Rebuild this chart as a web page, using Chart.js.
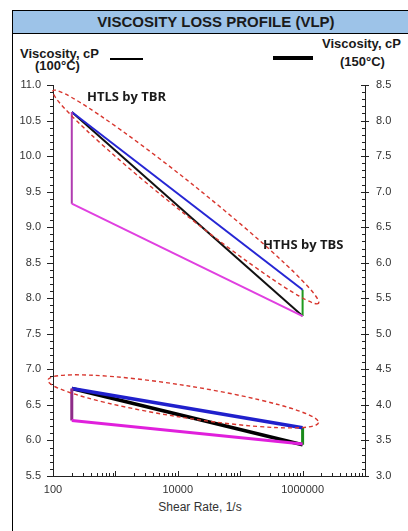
<!DOCTYPE html>
<html>
<head>
<meta charset="utf-8">
<script src="https://cdn.jsdelivr.net/npm/chart.js"></script>
<style>
  html, body { margin: 0; padding: 0; background: #fff; }
  body { width: 408px; height: 531px; position: relative; overflow: hidden; font-family: "Liberation Sans", Arial, sans-serif; }
  #frame { position: absolute; left: 12px; top: 10px; width: 400px; height: 530px; border-left: 1px solid #000; border-top: 1px solid #000; }
  #band { position: absolute; left: 12px; top: 10px; width: 400px; height: 22px; background: #9dc3e8; border-top: 1px solid #000; border-bottom: 1px solid #000; border-left: 1px solid #000; }
  #title { position: absolute; left: 0; width: 432px; top: 12px; text-align: center; font-weight: bold; font-size: 15px; color: #1a1a1a; line-height: 20px; }
  .lab { position: absolute; font-weight: bold; font-size: 13px; color: #1a1a1a; line-height: 14px; white-space: nowrap; }
  .seg { position: absolute; background: #000; }
  #xtitle { position: absolute; left: 100px; width: 200px; top: 500px; text-align: center; font-size: 12px; color: #333; }
  canvas { position: absolute; left: 0; top: 0; }
</style>
</head>
<body>
<div id="frame"></div>
<div id="band"></div>
<div id="title">VISCOSITY LOSS PROFILE (VLP)</div>
<div class="lab" style="left:20px;top:47px;">Viscosity, cP</div>
<div class="lab" style="left:35px;top:59px;">(100°C)</div>
<div class="seg" style="left:110px;top:58px;width:33px;height:1.5px;"></div>
<div class="seg" style="left:273px;top:56px;width:40px;height:4px;"></div>
<div class="lab" style="left:322px;top:37px;">Viscosity, cP</div>
<div class="lab" style="left:340px;top:55px;">(150°C)</div>
<div id="xtitle">Shear Rate, 1/s</div>
<canvas id="c" width="408" height="531"></canvas>
<script>
// shear rates (1/s) at which the viscosities are read
const shearRates = [200, 1000000];

// 100°C viscosity, cP (left axis)
const visc100Blue = [10.62, 8.12];
const visc100Black = [10.62, 7.75];
const visc100Magenta = [9.33, 7.75];

// 150°C viscosity, cP (right axis)
const visc150Blue = [4.23, 3.68];
const visc150Black = [4.23, 3.44];
const visc150Magenta = [3.78, 3.45];

// axis ticks
const xTickLabels = [100, 10000, 1000000];
const yLeftTicks = [5.5, 6.0, 6.5, 7.0, 7.5, 8.0, 8.5, 9.0, 9.5, 10.0, 10.5, 11.0];
const yRightTicks = [3.0, 3.5, 4.0, 4.5, 5.0, 5.5, 6.0, 6.5, 7.0, 7.5, 8.0, 8.5];

// dashed ellipse callouts: ends in (shear rate, 100°C viscosity)
const ellipseTop = [[100, 10.92], [1.8e6, 7.93]];
const ellipseBottom = [[83, 6.85], [1.8e6, 6.25]];

// annotation labels
const notes = [
  { text: 'HTLS by TBR', x: 350, y: 10.83 },
  { text: 'HTHS by TBS', x: 232000, y: 8.75 }
];

const pts = (xs, ys) => xs.map((x, i) => ({ x: x, y: ys[i] }));
const vert = (x, a, b) => [{ x: x, y: a }, { x: x, y: b }];

function ds(data, color, width, axis) {
  return { data: data, borderColor: color, borderWidth: width, pointRadius: 0, tension: 0, fill: false, yAxisID: axis };
}

const datasets = [
  ds(pts(shearRates, visc100Magenta), '#e040e0', 2, 'y'),
  ds(vert(shearRates[0], visc100Black[0], visc100Magenta[0]), '#b03cb0', 2, 'y'),
  ds(pts(shearRates, visc100Blue), '#2626d4', 2, 'y'),
  ds(vert(shearRates[1], visc100Blue[1], visc100Black[1]), '#1f9a1f', 2, 'y'),
  ds(pts(shearRates, visc100Black), '#111', 2, 'y'),
  ds(pts(shearRates, visc150Magenta), '#e020dc', 3, 'y2'),
  ds(vert(shearRates[0], visc150Black[0], visc150Magenta[0]), '#8e2c88', 3, 'y2'),
  ds(pts(shearRates, visc150Blue), '#2020cc', 3.5, 'y2'),
  ds(vert(shearRates[1], visc150Blue[1], visc150Black[1]), '#1a8a1a', 3, 'y2'),
  ds(pts(shearRates, visc150Black), '#000', 3.5, 'y2')
];

const decor = {
  id: 'decor',
  afterDraw(chart) {
    const ctx = chart.ctx;
    const xs = chart.scales.x, yl = chart.scales.y, yr = chart.scales.y2;
    const bottom = chart.chartArea.bottom;
    ctx.save();
    ctx.strokeStyle = '#222';
    ctx.lineWidth = 1;
    ctx.beginPath();
    // y axis ticks, major every 0.5 and minor every 0.1
    for (let i = 0; i <= 55; i++) {
      const v = 5.5 + i * 0.1;
      const py = Math.round(yl.getPixelForValue(v)) + 0.5;
      const major = i % 5 === 0;
      ctx.moveTo(yl.right - (major ? 6 : 3), py);
      ctx.lineTo(yl.right + (major ? 0 : 1), py);
      const v2 = 3 + i * 0.1;
      const py2 = Math.round(yr.getPixelForValue(v2)) + 0.5;
      ctx.moveTo(yr.left - (major ? 4 : 3), py2);
      ctx.lineTo(yr.left + (major ? 4 : 0), py2);
    }
    // x axis ticks (log)
    for (let d = 2; d < 7; d++) {
      for (let k = 1; k <= 9; k++) {
        const px = Math.round(xs.getPixelForValue(k * Math.pow(10, d))) + 0.5;
        const len = k === 1 ? 5 : 3;
        ctx.moveTo(px, bottom);
        ctx.lineTo(px, bottom - len);
      }
    }
    ctx.stroke();

    // dashed ellipses
    ctx.strokeStyle = '#d8362e';
    ctx.lineWidth = 1.4;
    ctx.setLineDash([4, 3]);
    [[ellipseTop, 14], [ellipseBottom, 16]].forEach(([e, b]) => {
      const x1 = xs.getPixelForValue(e[0][0]), y1 = yl.getPixelForValue(e[0][1]);
      const x2 = xs.getPixelForValue(e[1][0]), y2 = yl.getPixelForValue(e[1][1]);
      const cx = (x1 + x2) / 2, cy = (y1 + y2) / 2;
      const a = Math.hypot(x2 - x1, y2 - y1) / 2;
      const ang = Math.atan2(y2 - y1, x2 - x1);
      ctx.beginPath();
      ctx.ellipse(cx, cy, a, b, ang, 0, Math.PI * 2);
      ctx.stroke();
    });
    ctx.setLineDash([]);

    // notes
    ctx.fillStyle = '#1a1a1a';
    ctx.font = 'bold 13px "Open Sans"';
    ctx.textBaseline = 'middle';
    ctx.textAlign = 'left';
    notes.forEach(n => ctx.fillText(n.text, xs.getPixelForValue(n.x), yl.getPixelForValue(n.y)));
    ctx.restore();
  }
};

const tickFont = { family: '"Liberation Sans", Arial', size: 11 };

new Chart(document.getElementById('c'), {
  type: 'line',
  data: { datasets: datasets },
  plugins: [decor],
  options: {
    responsive: false,
    animation: false,
    events: [],
    layout: { padding: { top: 85, left: 0, right: 0, bottom: 0 } },
    plugins: { legend: { display: false }, tooltip: { enabled: false } },
    scales: {
      x: {
        type: 'logarithmic', position: 'bottom', min: 100, max: 1e7,
        afterBuildTicks: s => { s.ticks = xTickLabels.map(v => ({ value: v })); },
        afterFit: s => { s.height = 55; },
        grid: { display: false, drawTicks: false },
        border: { display: true, color: '#222', width: 1 },
        ticks: { font: tickFont, color: '#333', padding: 7, maxRotation: 0, autoSkip: false, callback: v => String(v) }
      },
      y: {
        type: 'linear', position: 'left', min: 5.5, max: 11,
        afterBuildTicks: s => { s.ticks = yLeftTicks.map(v => ({ value: v })); },
        afterFit: s => { s.width = 53; },
        grid: { display: false, drawTicks: false },
        border: { display: true, color: '#222', width: 1 },
        ticks: { font: tickFont, color: '#333', padding: 12, autoSkip: false, callback: v => v.toFixed(1) }
      },
      y2: {
        type: 'linear', position: 'right', min: 3, max: 8.5,
        afterBuildTicks: s => { s.ticks = yRightTicks.map(v => ({ value: v })); },
        afterFit: s => { s.width = 43; },
        grid: { display: false, drawTicks: false },
        border: { display: true, color: '#222', width: 1 },
        ticks: { font: tickFont, color: '#333', padding: 11, autoSkip: false, callback: v => v.toFixed(1) }
      }
    }
  }
});
</script>
</body>
</html>
